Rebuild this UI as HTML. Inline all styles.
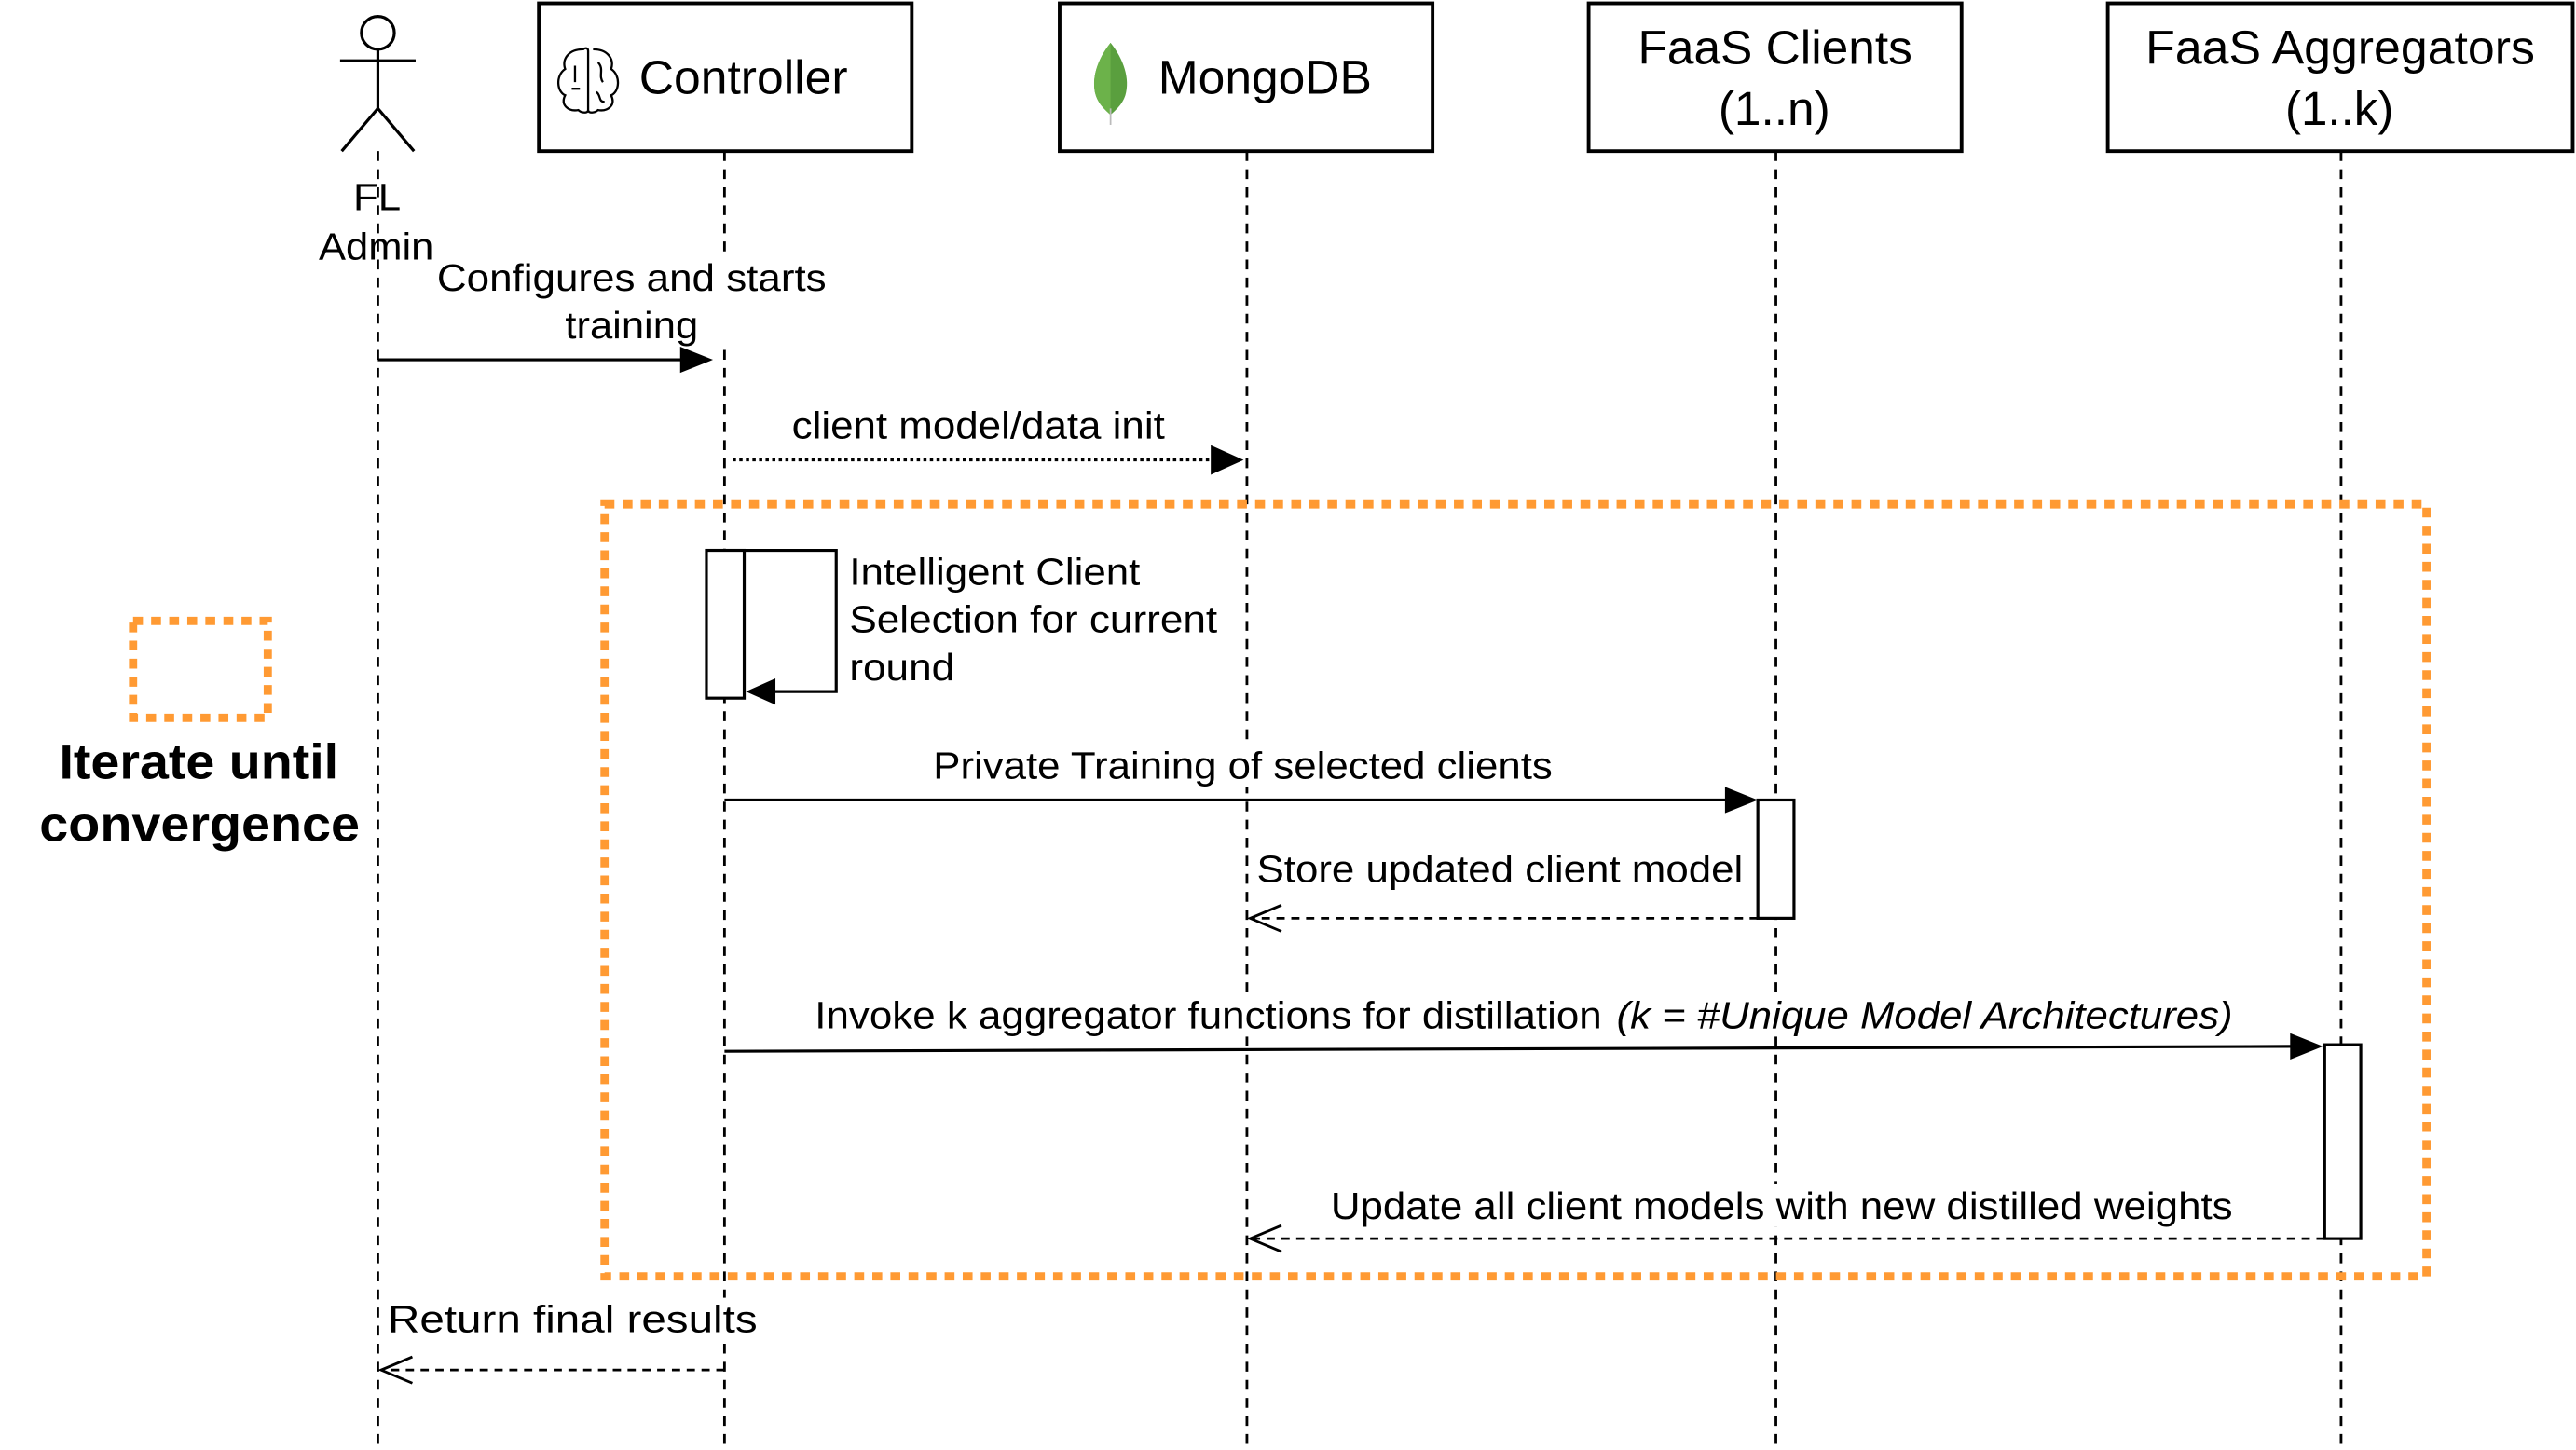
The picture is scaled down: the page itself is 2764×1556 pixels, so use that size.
<!DOCTYPE html>
<html><head><meta charset="utf-8"><style>
html,body{margin:0;padding:0;background:#fff;}
svg{display:block;}
text{font-family:"Liberation Sans",Arial,sans-serif;fill:#000;}
</style></head><body>
<svg width="2764" height="1556" viewBox="0 0 1568 882.7" xmlns="http://www.w3.org/2000/svg">
<!-- lifelines -->
<g stroke="#000" stroke-width="1.6" stroke-dasharray="6,5" fill="none">
<line x1="230" y1="92" x2="230" y2="882"/>
<line x1="441" y1="92" x2="441" y2="882"/>
<line x1="759" y1="92" x2="759" y2="882"/>
<line x1="1081" y1="92" x2="1081" y2="882"/>
<line x1="1425" y1="92" x2="1425" y2="882"/>
</g>
<!-- label backgrounds -->
<g fill="#fff">
<rect x="264" y="155" width="241" height="56"/>
<rect x="566" y="453" width="381" height="26"/>
<rect x="494" y="605" width="867" height="26"/>
<rect x="808" y="721" width="553" height="26"/>
<rect x="234" y="790" width="229" height="26"/>
</g>
<!-- actor -->
<g stroke="#000" stroke-width="1.8" fill="#fff">
<circle cx="230" cy="20" r="10"/>
<line x1="230" y1="30" x2="230" y2="66"/>
<line x1="207" y1="37" x2="253" y2="37"/>
<line x1="230" y1="66" x2="208" y2="92"/>
<line x1="230" y1="66" x2="252" y2="92"/>
</g>
<text x="215" y="128" font-size="23" textLength="29" lengthAdjust="spacingAndGlyphs">FL</text>
<text x="194" y="158" font-size="23" textLength="70" lengthAdjust="spacingAndGlyphs">Admin</text>
<!-- boxes -->
<g stroke="#000" stroke-width="2.2" fill="#fff">
<rect x="328" y="2" width="227" height="90"/>
<rect x="645" y="2" width="227" height="90"/>
<rect x="967" y="2" width="227" height="90"/>
<rect x="1283" y="2" width="283" height="90"/>
</g>
<!-- brain icon -->
<g stroke="#000" stroke-width="1.3" fill="none">
<path d="M355,30 C346,30 342,36 344,42 C338,46 339,56 344,58 C341,64 346,68 352,67 C354,69 358,69 358,67 L358,31 C358,29 356,29 355,30 Z"/>
<path d="M361,30 C370,30 374,36 372,42 C378,46 377,56 372,58 C375,64 370,68 364,67 C362,69 358,69 358,67"/>
<path d="M350,40 L350,50 M348,54 L353,54 M364,38 C368,42 364,46 367,50 M363,56 C366,58 364,62 368,62"/>
</g>
<text x="389" y="57" font-size="29" textLength="127" lengthAdjust="spacingAndGlyphs">Controller</text>
<!-- leaf -->
<path d="M676,26 C668,36 664,48 667,58 C669,64 673,67 676,70 C679,67 683,64 685,58 C688,48 684,36 676,26 Z" fill="#5a9f3e"/>
<path d="M676,26 C668,36 664,48 667,58 C669,64 673,67 676,70 Z" fill="#6cb24a"/>
<line x1="676" y1="66" x2="676" y2="76" stroke="#bbb" stroke-width="1"/>
<text x="705" y="57" font-size="29" textLength="130" lengthAdjust="spacingAndGlyphs">MongoDB</text>
<text x="997" y="39" font-size="29" textLength="167" lengthAdjust="spacingAndGlyphs">FaaS Clients</text>
<text x="1046" y="76" font-size="29" textLength="68" lengthAdjust="spacingAndGlyphs">(1..n)</text>
<text x="1306" y="39" font-size="29" textLength="237" lengthAdjust="spacingAndGlyphs">FaaS Aggregators</text>
<text x="1391" y="76" font-size="29" textLength="66" lengthAdjust="spacingAndGlyphs">(1..k)</text>
<!-- message 1 -->
<text x="266" y="177" font-size="23" textLength="237" lengthAdjust="spacingAndGlyphs">Configures and starts</text>
<text x="344" y="206" font-size="23" textLength="81" lengthAdjust="spacingAndGlyphs">training</text>
<line x1="230" y1="219" x2="416" y2="219" stroke="#000" stroke-width="1.8"/>
<path d="M414,211 L434,219 L414,227 Z"/>
<!-- message 2 -->
<text x="482" y="267" font-size="23" textLength="227" lengthAdjust="spacingAndGlyphs">client model/data init</text>
<line x1="446" y1="280" x2="740" y2="280" stroke="#000" stroke-width="1.8" stroke-dasharray="2,2"/>
<path d="M737,271 L757,280 L737,289 Z"/>
<!-- orange loop -->
<rect x="368" y="307" width="1109" height="470" fill="none" stroke="#ff9a33" stroke-width="5" stroke-dasharray="6,5"/>
<rect x="81" y="378" width="82" height="59" fill="none" stroke="#ff9a33" stroke-width="5" stroke-dasharray="6,5"/>
<text x="36" y="474" font-size="30" font-weight="bold" textLength="170" lengthAdjust="spacingAndGlyphs">Iterate until</text>
<text x="24" y="512" font-size="30" font-weight="bold" textLength="195" lengthAdjust="spacingAndGlyphs">convergence</text>
<!-- self loop -->
<rect x="430" y="335" width="23" height="90" fill="#fff" stroke="#000" stroke-width="1.8"/>
<path d="M453,335 L509,335 L509,421 L470,421" fill="none" stroke="#000" stroke-width="1.8"/>
<path d="M472,413 L454,421 L472,429 Z"/>
<text x="517" y="356" font-size="23" textLength="177" lengthAdjust="spacingAndGlyphs">Intelligent Client</text>
<text x="517" y="385" font-size="23" textLength="224" lengthAdjust="spacingAndGlyphs">Selection for current</text>
<text x="517" y="414" font-size="23" textLength="64" lengthAdjust="spacingAndGlyphs">round</text>
<!-- private training -->
<text x="568" y="474" font-size="23" textLength="377" lengthAdjust="spacingAndGlyphs">Private Training of selected clients</text>
<line x1="441" y1="487" x2="1052" y2="487" stroke="#000" stroke-width="1.8"/>
<path d="M1050,479 L1070,487 L1050,495 Z"/>
<rect x="1070" y="487" width="22" height="72" fill="#fff" stroke="#000" stroke-width="1.8"/>
<text x="765" y="537" font-size="23" textLength="296" lengthAdjust="spacingAndGlyphs">Store updated client model</text>
<line x1="1070" y1="559" x2="761" y2="559" stroke="#000" stroke-width="1.6" stroke-dasharray="5,4"/>
<path d="M780,551 L761,559 L780,567" fill="none" stroke="#000" stroke-width="1.6"/>
<!-- invoke -->
<text x="496" y="626" font-size="23" textLength="479" lengthAdjust="spacingAndGlyphs">Invoke k aggregator functions for distillation</text>
<text x="984" y="626" font-size="23" font-style="italic" textLength="375" lengthAdjust="spacingAndGlyphs">(k = #Unique Model Architectures)</text>
<line x1="441" y1="640" x2="1396" y2="637" stroke="#000" stroke-width="1.8"/>
<path d="M1394,629 L1414,637 L1394,645 Z"/>
<rect x="1415" y="636" width="22" height="118" fill="#fff" stroke="#000" stroke-width="1.8"/>
<text x="810" y="742" font-size="23" textLength="549" lengthAdjust="spacingAndGlyphs">Update all client models with new distilled weights</text>
<line x1="1415" y1="754" x2="761" y2="754" stroke="#000" stroke-width="1.6" stroke-dasharray="5,4"/>
<path d="M780,746 L761,754 L780,762" fill="none" stroke="#000" stroke-width="1.6"/>
<!-- return -->
<text x="236" y="811" font-size="23" textLength="225" lengthAdjust="spacingAndGlyphs">Return final results</text>
<line x1="441" y1="834" x2="232" y2="834" stroke="#000" stroke-width="1.6" stroke-dasharray="5,4"/>
<path d="M251,826 L232,834 L251,842" fill="none" stroke="#000" stroke-width="1.6"/>
</svg>
</body></html>
